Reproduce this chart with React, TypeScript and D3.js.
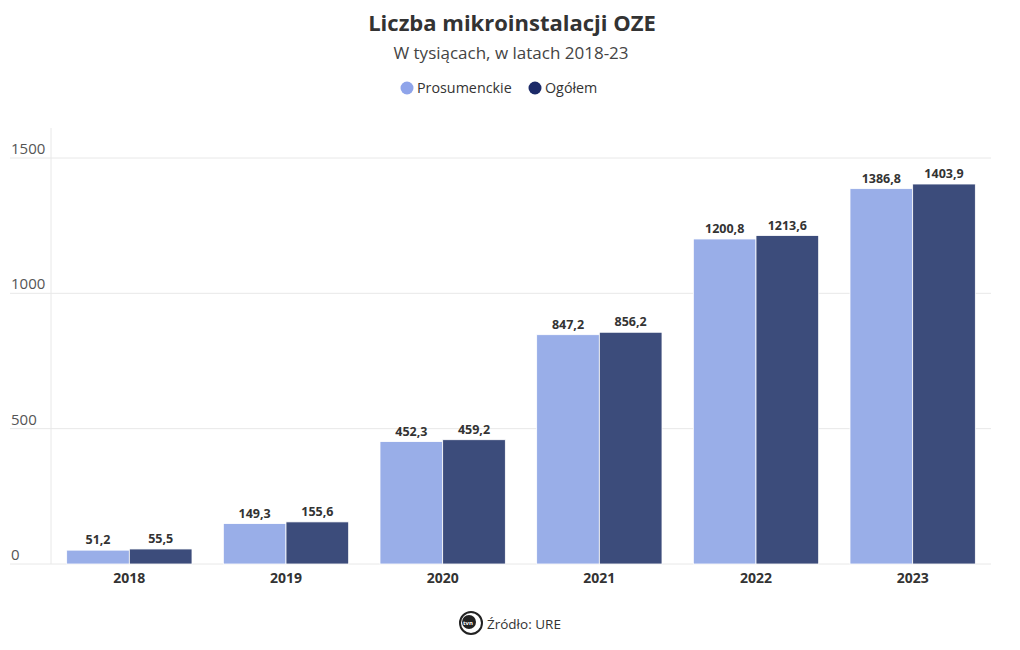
import React from "react";
import * as d3 from "d3";

const years = ["2018", "2019", "2020", "2021", "2022", "2023"];
const prosumenckie = [51.2, 149.3, 452.3, 847.2, 1200.8, 1386.8];
const ogolem = [55.5, 155.6, 459.2, 856.2, 1213.6, 1403.9];
const yTicks = [0, 500, 1000, 1500];
const seriesNames = ["Prosumenckie", "Ogółem"];
const barColors = ["#99aee8", "#3c4c7b"];
const legendColors = ["#8fa4ea", "#1b2a68"];

const W = 1020;
const H = 650;
const FONT = "'Open Sans', 'Noto Sans', sans-serif";

export default function App() {
  const left = 51, right = 991, top = 128, bottom = 564;
  const x0 = d3.scaleBand().domain(years).range([left, right]).paddingInner(0.2).paddingOuter(0.1);
  const x1 = d3.scaleBand().domain(seriesNames).range([0, x0.bandwidth()]).padding(0);
  const y = d3.scaleLinear().domain([0, 1500]).range([bottom, 158]);
  const fmt = (v: number) => v.toFixed(1).replace(".", ",");
  const series = [prosumenckie, ogolem];

  return (
    <svg width={W} height={H} style={{ position: "absolute", left: 0, top: 0, background: "#fff" }} fontFamily={FONT}>
      <text x={512} y={31} textAnchor="middle" fontSize={22} fontWeight={700} fill="#333">Liczba mikroinstalacji OZE</text>
      <text x={511} y={59} textAnchor="middle" fontSize={17} fill="#444">W tysiącach, w latach 2018-23</text>
      <g>
        <circle cx={407} cy={88} r={6.5} fill={legendColors[0]} />
        <text x={417} y={93} fontSize={14.3} fill="#333">{seriesNames[0]}</text>
        <circle cx={535} cy={88} r={6.5} fill={legendColors[1]} />
        <text x={545} y={93} fontSize={14.3} fill="#333">{seriesNames[1]}</text>
      </g>
      <line x1={left} x2={left} y1={top} y2={bottom} stroke="#e8e8e8" />
      {yTicks.map((t) => (
        <g key={t}>
          <line x1={10} x2={right} y1={y(t)} y2={y(t)} stroke="#e8e8e8" />
          <text x={11} y={y(t) - 4} fontSize={15} fill="#555">{t}</text>
        </g>
      ))}
      {years.map((yr, i) => (
        <g key={yr}>
          {series.map((s, j) => {
            const bx = (x0(yr) as number) + (x1(seriesNames[j]) as number);
            const bw = x1.bandwidth();
            return (
              <g key={j}>
                <rect x={bx} y={y(s[i])} width={bw} height={bottom - y(s[i])} fill={barColors[j]} stroke="#fff" strokeWidth={0.8} />
                <text x={bx + bw / 2} y={y(s[i]) - 6} textAnchor="middle" fontSize={12.5} fontWeight={700} fill="#333">{fmt(s[i])}</text>
              </g>
            );
          })}
          <text x={(x0(yr) as number) + x0.bandwidth() / 2} y={583} textAnchor="middle" fontSize={14} fontWeight={700} fill="#333">{yr}</text>
        </g>
      ))}
      <g>
        <circle cx={471} cy={623} r={11} fill="#fff" stroke="#222" strokeWidth={2} />
        <circle cx={469} cy={622} r={7} fill="#222" />
        <text x={468} y={625} textAnchor="middle" fontSize={6} fontWeight={700} fill="#fff">tvn</text>
        <text x={487} y={629} fontSize={13.5} fill="#333">Źródło: URE</text>
      </g>
    </svg>
  );
}
